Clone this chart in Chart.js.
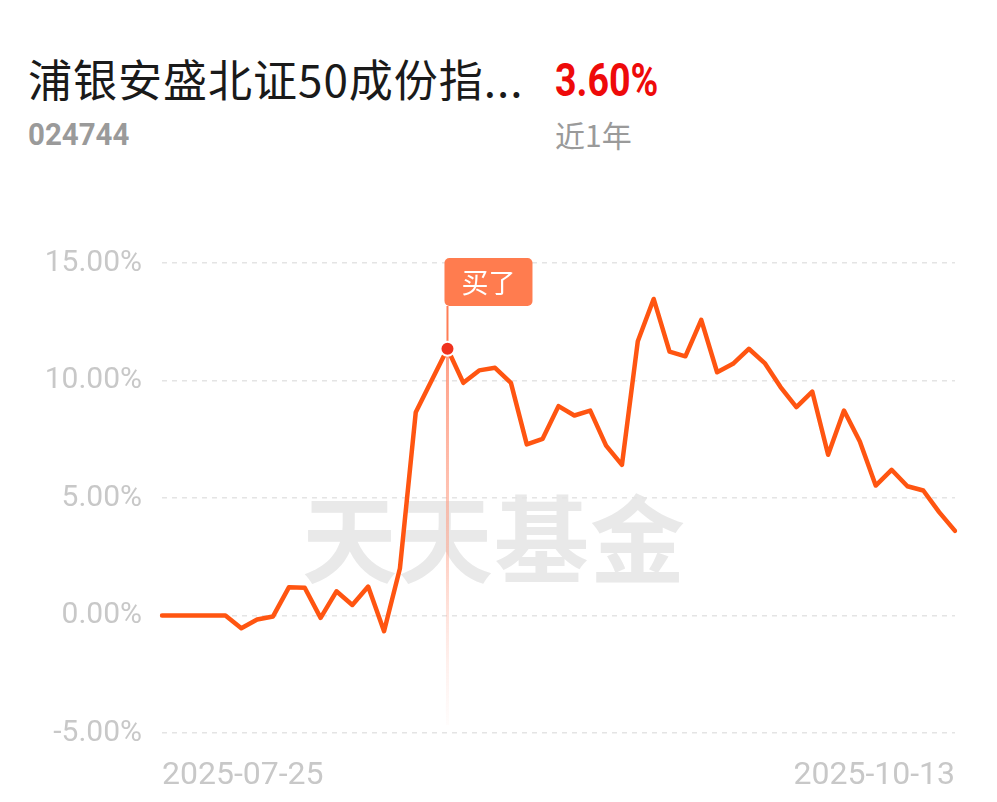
<!DOCTYPE html>
<html>
<head>
<meta charset="utf-8">
<script src="https://cdn.jsdelivr.net/npm/chart.js@4/dist/chart.umd.min.js"></script>
<style>
  body { margin: 0; background: #fff; }
  #wrap { position: relative; width: 997px; height: 802px; overflow: hidden; }
  .txt { position: absolute; white-space: nowrap; line-height: 1; }
  #title { left: 28px; top: 46px; font: 44px "Noto Sans CJK SC", sans-serif; color: #1a1a1a; letter-spacing: 1px; }
  #ret { left: 555px; top: 52px; font: bold 47px Roboto, sans-serif; color: #ee0a0a; transform: scaleX(0.8); transform-origin: left; }
  #code { left: 28px; top: 115px; font: bold 32px Roboto, sans-serif; color: #9a9a9a; transform: scaleX(0.92); transform-origin: left; }
  #period { left: 555px; top: 112px; font: 30px "Noto Sans CJK SC", sans-serif; color: #9a9a9a; }
  #mark { left: 302px; top: 466px; font: 700 95px "Noto Sans CJK SC", sans-serif; color: #e9e9e9; letter-spacing: 1px; }
  canvas { position: absolute; left: 0; top: 0; }
</style>
</head>
<body>
<div id="wrap">
  <div class="txt" id="title">浦银安盛北证50成份指...</div>
  <div class="txt" id="ret">3.60%</div>
  <div class="txt" id="code">024744</div>
  <div class="txt" id="period">近1年</div>
  <div class="txt" id="mark">天天基金</div>
  <canvas id="chart" width="997" height="802"></canvas>
</div>
<script>
// trading days shown on the chart
const dates = [
  '2025-07-25',
  '2025-07-28', '2025-07-29', '2025-07-30', '2025-07-31', '2025-08-01',
  '2025-08-04', '2025-08-05', '2025-08-06', '2025-08-07', '2025-08-08',
  '2025-08-11', '2025-08-12', '2025-08-13', '2025-08-14', '2025-08-15',
  '2025-08-18', '2025-08-19', '2025-08-20', '2025-08-21', '2025-08-22',
  '2025-08-25', '2025-08-26', '2025-08-27', '2025-08-28', '2025-08-29',
  '2025-09-01', '2025-09-02', '2025-09-03', '2025-09-04', '2025-09-05',
  '2025-09-08', '2025-09-09', '2025-09-10', '2025-09-11', '2025-09-12',
  '2025-09-15', '2025-09-16', '2025-09-17', '2025-09-18', '2025-09-19',
  '2025-09-22', '2025-09-23', '2025-09-24', '2025-09-25', '2025-09-26',
  '2025-09-29', '2025-09-30',
  '2025-10-09', '2025-10-10',
  '2025-10-13'
];

// cumulative return, %
const returns = [
  0, 0, 0, 0, 0, -0.54, -0.17, -0.04, 1.20, 1.18,
  -0.10, 1.03, 0.45, 1.23, -0.67, 2.00, 8.65, 10.00, 11.35, 9.90,
  10.43, 10.54, 9.90, 7.28, 7.52, 8.91, 8.51, 8.72, 7.23, 6.41,
  11.67, 13.47, 11.23, 11.03, 12.58, 10.35, 10.71, 11.35, 10.74, 9.72,
  8.87, 9.53, 6.84, 8.72, 7.40, 5.53, 6.20, 5.50, 5.32, 4.40,
  3.60
];

const yTicks = [-5, 0, 5, 10, 15];
const buyDate = '2025-08-20';
const buyLabel = '买了';

const lineColor = '#ff5511';

// buy marker: vertical line, dot and flag
const buyMarker = {
    id: 'buyMarker',
    beforeDatasetsDraw(chart) {
        const idx = dates.indexOf(buyDate);
        const pt = chart.getDatasetMeta(0).data[idx];
        const area = chart.chartArea;
        const ctx = chart.ctx;
        const flagBottom = area.top + 43;
        ctx.save();
        ctx.strokeStyle = 'rgba(255,125,85,1)';
        ctx.lineWidth = 2;
        ctx.beginPath();
        ctx.moveTo(pt.x, flagBottom);
        ctx.lineTo(pt.x, pt.y);
        ctx.stroke();
        const grad = ctx.createLinearGradient(0, pt.y, 0, area.bottom - 8);
        grad.addColorStop(0, 'rgba(255,140,110,0.85)');
        grad.addColorStop(0.55, 'rgba(255,160,135,0.5)');
        grad.addColorStop(1, 'rgba(255,200,190,0.05)');
        ctx.strokeStyle = grad;
        ctx.lineWidth = 3;
        ctx.beginPath();
        ctx.moveTo(pt.x, pt.y);
        ctx.lineTo(pt.x, area.bottom - 8);
        ctx.stroke();
        ctx.restore();
    },
    afterDatasetsDraw(chart) {
        const idx = dates.indexOf(buyDate);
        const pt = chart.getDatasetMeta(0).data[idx];
        const area = chart.chartArea;
        const ctx = chart.ctx;
        ctx.save();
        // flag
        const bx = pt.x - 3, by = area.top - 5, bw = 88, bh = 48;
        ctx.fillStyle = '#ff7c4f';
        ctx.beginPath();
        ctx.roundRect(bx, by, bw, bh, 5);
        ctx.fill();
        ctx.fillStyle = '#fff';
        ctx.font = '27px "Noto Sans CJK SC", sans-serif';
        ctx.textAlign = 'center';
        ctx.textBaseline = 'middle';
        ctx.fillText(buyLabel, bx + bw / 2, by + bh / 2 + 1);
        // dot
        ctx.beginPath();
        ctx.arc(pt.x, pt.y, 7, 0, Math.PI * 2);
        ctx.fillStyle = '#f0321e';
        ctx.fill();
        ctx.lineWidth = 2;
        ctx.strokeStyle = '#fff';
        ctx.stroke();
        ctx.restore();
    }
};

new Chart(document.getElementById('chart'), {
    type: 'line',
    data: {
        labels: dates,
        datasets: [{
            data: returns,
            borderColor: lineColor,
            borderWidth: 4.5,
            pointRadius: 0,
            tension: 0,
            fill: false,
            borderJoinStyle: 'round',
            borderCapStyle: 'round'
        }]
    },
    options: {
        responsive: false,
        animation: false,
        layout: { padding: { top: 263, right: 42, bottom: 0, left: 0 } },
        plugins: {
            legend: { display: false },
            tooltip: { enabled: false }
        },
        scales: {
            x: {
                offset: false,
                afterFit: (scale) => { scale.height = 69; },
                grid: { display: false },
                border: { display: false },
                ticks: {
                    autoSkip: false,
                    maxRotation: 0,
                    align: 'inner',
                    padding: 16,
                    color: '#c8c8c8',
                    font: { family: 'Roboto', size: 32 },
                    callback: (v, i) => (i === 0 || i === dates.length - 1) ? dates[i] : ''
                }
            },
            y: {
                min: yTicks[0],
                max: yTicks[yTicks.length - 1],
                afterFit: (scale) => { scale.width = 162; },
                afterBuildTicks: (scale) => { scale.ticks = yTicks.map(v => ({ value: v })); },
                grid: { color: '#e4e4e4', lineWidth: 1.5, drawTicks: false },
                border: { display: false, dash: [5, 5] },
                ticks: {
                    padding: 20,
                    color: '#c8c8c8',
                    font: { family: 'Roboto', size: 30 },
                    callback: (v) => v.toFixed(2) + '%'
                }
            }
        }
    },
    plugins: [buyMarker]
});
</script>
</body>
</html>
